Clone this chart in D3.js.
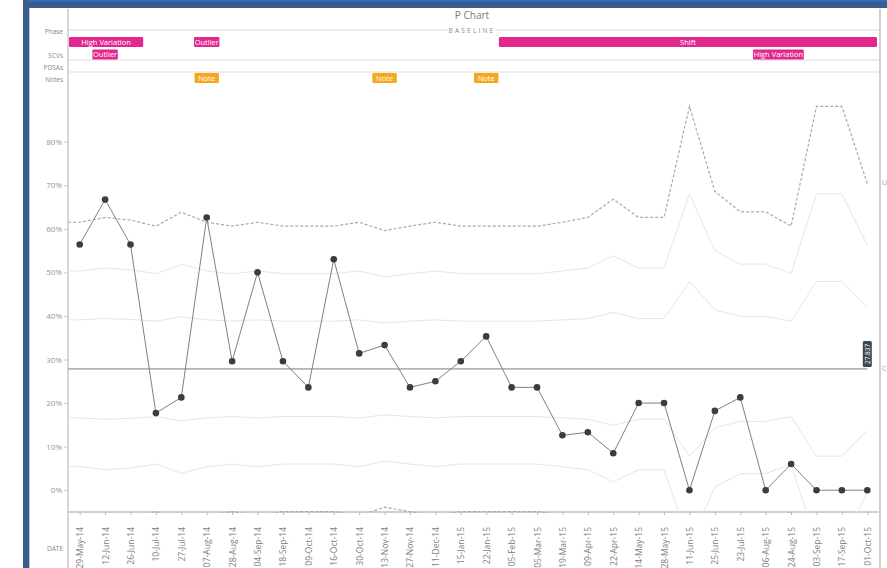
<!DOCTYPE html>
<html>
<head>
<meta charset="utf-8">
<script src="https://cdn.jsdelivr.net/npm/d3@7"></script>
<style>
  body { margin: 0; background: #fff; font-family: "Open Sans", "DejaVu Sans", sans-serif; }
  svg { display: block; }
</style>
</head>
<body>
<div id="chart"></div>
<script>
const W = 887, H = 568;

// x categories
const dates = ["29-May-14","12-Jun-14","26-Jun-14","10-Jul-14","27-Jul-14","07-Aug-14","28-Aug-14","04-Sep-14",
  "18-Sep-14","09-Oct-14","16-Oct-14","30-Oct-14","13-Nov-14","27-Nov-14","11-Dec-14","15-Jan-15",
  "22-Jan-15","05-Feb-15","05-Mar-15","19-Mar-15","09-Apr-15","22-Apr-15","14-May-15","28-May-15",
  "11-Jun-15","25-Jun-15","23-Jul-15","06-Aug-15","24-Aug-15","03-Sep-15","17-Sep-15","01-Oct-15"];

// proportion (%) per point
const values = [56.4,66.7,56.4,17.7,21.3,62.6,29.6,50.0,29.6,23.6,53.0,31.4,33.3,23.6,25.0,29.6,
  35.3,23.6,23.6,12.6,13.3,8.5,20.0,20.0,0,18.2,21.3,0,6.0,0,0,0];

const centre = 27.837;

// control limits (%) per point
const ucl = [61.5,62.6,62.0,60.6,63.8,61.5,60.6,61.5,60.6,60.6,60.6,61.5,59.6,60.6,61.5,60.6,
  60.6,60.6,60.6,61.5,62.6,66.8,62.6,62.6,88.1,68.6,63.9,63.9,60.6,88.1,88.1,70.4];
const upper2 = [50.3,51.0,50.6,49.7,51.8,50.3,49.7,50.3,49.7,49.7,49.7,50.3,49.0,49.7,50.3,49.7,
  49.7,49.7,49.7,50.3,51.0,53.8,51.0,51.0,68.0,55.0,51.9,51.9,49.7,68.0,68.0,56.2];
const upper1 = [39.1,39.4,39.2,38.8,39.8,39.1,38.8,39.1,38.8,38.8,38.8,39.1,38.4,38.8,39.1,38.8,
  38.8,38.8,38.8,39.1,39.4,40.8,39.4,39.4,47.9,41.4,39.9,39.9,38.8,47.9,47.9,42.0];
const lower1 = [16.6,16.3,16.5,16.9,15.9,16.6,16.9,16.6,16.9,16.9,16.9,16.6,17.3,16.9,16.6,16.9,
  16.9,16.9,16.9,16.6,16.3,14.9,16.3,16.3,7.8,14.3,15.8,15.8,16.9,7.8,7.8,13.7];
const lower2 = [5.4,4.7,5.1,6.0,3.9,5.4,6.0,5.4,6.0,6.0,6.0,5.4,6.7,6.0,5.4,6.0,
  6.0,6.0,6.0,5.4,4.7,1.9,4.7,4.7,-12.3,0.7,3.8,3.8,6.0,-12.3,-12.3,-0.5];
const lcl = [-5.8,-6.9,-6.3,-4.9,-8.1,-5.8,-4.9,-5.8,-4.9,-4.9,-4.9,-5.8,-3.9,-4.9,-5.8,-4.9,
  -4.9,-4.9,-4.9,-5.8,-6.9,-11.1,-6.9,-6.9,-32.4,-12.9,-8.2,-8.2,-4.9,-32.4,-32.4,-14.7];

const yTicks = [0,10,20,30,40,50,60,70,80];

// annotations (indices into dates)
const phaseLabel = "BASELINE";
const scvLabels = ["High Variation","Outlier","Outlier","Shift","High Variation"];
const scvFrom   = [0,5,1,17,27];
const scvTo     = [2,5,1,31,28];
const scvRow    = [0,0,1,0,1];
const noteIdx   = [5,12,16];
const rowNames  = ["Phase","SCVs","PDSAs","Notes","DATE"];

const svg = d3.select("#chart").append("svg").attr("width", W).attr("height", H);

// frame
svg.append("rect").attr("x",23).attr("y",0).attr("width",W-23).attr("height",8).attr("fill","#3a5d8c");
svg.append("rect").attr("x",23).attr("y",0).attr("width",W-23).attr("height",1.5).attr("fill","#2a74c9");
svg.append("rect").attr("x",23).attr("y",0).attr("width",6).attr("height",H).attr("fill","#3a5d8c");
svg.append("rect").attr("x",29).attr("y",8).attr("width",1).attr("height",H-8).attr("fill","#b8cbe4");

const plotL = 68, plotR = 879, plotT = 85, plotB = 512;

const x = d3.scalePoint().domain(dates).range([plotL, plotR]).padding(0.46);
const y = d3.scaleLinear().domain([-5, 93]).range([plotB, plotT]);
const step = x.step();

// panel borders
svg.append("line").attr("x1",plotL).attr("x2",plotL).attr("y1",9).attr("y2",H).attr("stroke","#d6d6d6").attr("stroke-width",2);
svg.append("line").attr("x1",plotR+1).attr("x2",plotR+1).attr("y1",9).attr("y2",H).attr("stroke","#d0d0d0").attr("stroke-width",2);

// title
svg.append("text").attr("x",472).attr("y",19).attr("text-anchor","middle")
  .attr("font-size",10).attr("fill","#7a7a7a").text("P Chart");

// header rows
const rowY = [31,55,67,79,548];
rowNames.forEach((n,i) => {
  svg.append("text").attr("x",63).attr("y",rowY[i]+2.5).attr("text-anchor","end")
    .attr("font-size",6.5).attr("fill","#888").text(n);
});
[30,60,72].forEach(v => {
  svg.append("line").attr("x1",plotL+1).attr("x2",plotR).attr("y1",v).attr("y2",v)
    .attr("stroke","#dcdcdc").attr("stroke-width",1.2);
});
svg.append("rect").attr("x",448).attr("y",26).attr("width",48).attr("height",8).attr("fill","#fff");
svg.append("text").attr("x",472).attr("y",32.5).attr("text-anchor","middle")
  .attr("font-size",6.5).attr("letter-spacing",2.2).attr("fill","#888").text(phaseLabel);

// SCV bars
const scv = svg.append("g");
scvLabels.forEach((lab,i) => {
  const x0 = Math.max(plotL+1, x(dates[scvFrom[i]]) - step/2);
  const x1 = Math.min(plotR-2, x(dates[scvTo[i]]) + step/2);
  const yy = scvRow[i] === 0 ? 37 : 49.5;
  scv.append("rect").attr("x",x0).attr("y",yy).attr("width",x1-x0).attr("height",10)
    .attr("rx",1).attr("fill","#e2288e");
  scv.append("text").attr("x",(x0+x1)/2).attr("y",yy+7.5).attr("text-anchor","middle")
    .attr("font-size",7.5).attr("fill","#fff").text(lab);
});

// notes
noteIdx.forEach(i => {
  const cx = x(dates[i]);
  svg.append("rect").attr("x",cx-step/2+0.5).attr("y",73).attr("width",step-1).attr("height",10)
    .attr("rx",1).attr("fill","#f5a81c");
  svg.append("text").attr("x",cx).attr("y",80.5).attr("text-anchor","middle")
    .attr("font-size",7.5).attr("fill","#fff").text("Note");
});

// y axis
const yAxis = svg.append("g").attr("transform",`translate(${plotL},0)`)
  .call(d3.axisLeft(y).tickValues(yTicks).tickSize(4).tickFormat(d => d + "%"));
yAxis.select(".domain").remove();
yAxis.selectAll("line").attr("stroke","#c8c8c8");
yAxis.selectAll("text").attr("font-size",8).attr("fill","#8a97a6").attr("font-family","Open Sans, sans-serif").attr("x",-6);

// x axis
const xAxis = svg.append("g").attr("transform",`translate(0,${plotB})`)
  .call(d3.axisBottom(x).tickSize(3));
xAxis.select(".domain").attr("d",`M${plotL},0H${plotR}`).attr("stroke","#cfcfcf").attr("stroke-width",2);
xAxis.selectAll("line").attr("stroke","#bbb");
xAxis.selectAll("text").attr("transform","rotate(-90)").attr("x",-15).attr("y",0).attr("dy","0.35em")
  .style("text-anchor","end").attr("font-size",8.5).attr("fill","#7d7d7d").attr("font-family","Open Sans, sans-serif");

// plot clip (bottom edge lets the LCL sit on the axis where it touches -5%)
svg.append("clipPath").attr("id","plot").append("rect")
  .attr("x",plotL).attr("y",plotT).attr("width",plotR-plotL).attr("height",plotB-plotT+0.8);
const plot = svg.append("g").attr("clip-path","url(#plot)");

function limitLine(arr) {
  const pts = [[plotL, arr[0]]].concat(arr.map((v,i) => [x(dates[i]), v]));
  return d3.line().x(d => d[0]).y(d => y(d[1]))(pts);
}

[upper1, upper2, lower1, lower2].forEach(arr => {
  plot.append("path").attr("d",limitLine(arr)).attr("fill","none")
    .attr("stroke","#e6e6e6").attr("stroke-width",1);
});
[ucl, lcl].forEach(arr => {
  plot.append("path").attr("d",limitLine(arr)).attr("fill","none")
    .attr("stroke","#a9a9a9").attr("stroke-width",1.2).attr("stroke-dasharray","3,2");
});

// centre line
const last = x(dates[dates.length-1]);
plot.append("line").attr("x1",plotL).attr("x2",last).attr("y1",y(centre)).attr("y2",y(centre))
  .attr("stroke","#b4b4b4").attr("stroke-width",1.6);

// data line + points
plot.append("path")
  .attr("d", d3.line().x((d,i) => x(dates[i])).y(d => y(d))(values))
  .attr("fill","none").attr("stroke","#808080").attr("stroke-width",1);
plot.selectAll("circle").data(values).enter().append("circle")
  .attr("cx",(d,i) => x(dates[i])).attr("cy",d => y(d)).attr("r",3.3).attr("fill","#323e48");

// centre label
const cg = svg.append("g").attr("transform",`translate(${last},${y(centre)-2})`);
cg.append("rect").attr("x",-4.5).attr("y",-26).attr("width",9).attr("height",26).attr("rx",1.5).attr("fill","#3c4752");
cg.append("text").attr("transform","rotate(-90)").attr("x",13).attr("y",2.5)
  .attr("text-anchor","middle").attr("font-size",6.5).attr("fill","#fff").text(centre.toFixed(3));

// limit labels at right edge (cut by the page edge, as in the source)
svg.append("text").attr("x",882).attr("y",y(ucl[ucl.length-1])+2).attr("font-size",7).attr("fill","#aaa").text("UCL");
svg.append("text").attr("x",882).attr("y",y(centre)+2).attr("font-size",7).attr("fill","#aaa").text("CL");
</script>
</body>
</html>
